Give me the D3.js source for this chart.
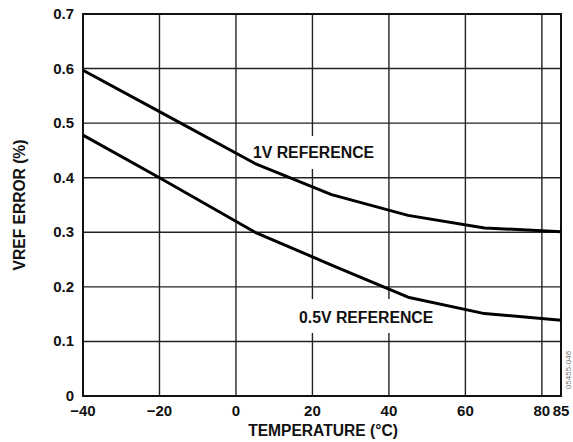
<!DOCTYPE html>
<html>
<head>
<meta charset="utf-8">
<script src="https://cdn.jsdelivr.net/npm/d3@7"></script>
<style>
  body { margin: 0; background: #fff; }
  text { font-family: "Liberation Sans", Arial, sans-serif; font-weight: bold; fill: #111; }
</style>
</head>
<body>
<script>
const temps = [-40, -20, 5, 25, 45, 65, 85];
const ref1V = [0.597, 0.521, 0.426, 0.369, 0.331, 0.308, 0.301];
const ref05V = [0.478, 0.400, 0.300, 0.240, 0.181, 0.151, 0.139];
const xTicks = [-40, -20, 0, 20, 40, 60, 80, 85];
const yTicks = [0, 0.1, 0.2, 0.3, 0.4, 0.5, 0.6, 0.7];

const w = 573;
const h = 442;
const plotL = 83, plotR = 561, plotT = 14, plotB = 396;

const svg = d3.select("body")
  .append("svg")
  .attr("width", w)
  .attr("height", h);

const xScale = d3.scaleLinear().domain([-40, 85]).range([plotL, plotR]);
const yScale = d3.scaleLinear().domain([0, 0.7]).range([plotB, plotT]);

// grid
svg.append("g")
  .selectAll("line")
  .data(xTicks)
  .enter()
  .append("line")
  .attr("x1", d => xScale(d))
  .attr("x2", d => xScale(d))
  .attr("y1", plotT)
  .attr("y2", plotB)
  .attr("stroke", "#222")
  .attr("stroke-width", 1.4);

svg.append("g")
  .selectAll("line")
  .data(yTicks)
  .enter()
  .append("line")
  .attr("x1", plotL)
  .attr("x2", plotR)
  .attr("y1", d => yScale(d))
  .attr("y2", d => yScale(d))
  .attr("stroke", "#222")
  .attr("stroke-width", 1.4);

// white boxes behind curve labels
svg.append("rect")
  .attr("x", xScale(5)).attr("y", 136)
  .attr("width", 124).attr("height", 33)
  .attr("fill", "#fff");
svg.append("rect")
  .attr("x", xScale(16)).attr("y", 299)
  .attr("width", 138).attr("height", 34)
  .attr("fill", "#fff");

// frame
svg.append("rect")
  .attr("x", plotL).attr("y", plotT)
  .attr("width", plotR - plotL).attr("height", plotB - plotT)
  .attr("fill", "none")
  .attr("stroke", "#111")
  .attr("stroke-width", 2);

const line = d3.line()
  .x((d, i) => xScale(temps[i]))
  .y(d => yScale(d))
  .curve(d3.curveLinear);

[ref1V, ref05V].forEach(series => {
  svg.append("path")
    .attr("d", line(series))
    .attr("fill", "none")
    .attr("stroke", "#000")
    .attr("stroke-width", 3)
    .attr("stroke-linejoin", "round");
});

// curve labels
svg.append("text")
  .attr("x", 253).attr("y", 158)
  .style("font-size", "15.8px")
  .text("1V REFERENCE");
svg.append("text")
  .attr("x", 299).attr("y", 323)
  .style("font-size", "15.8px")
  .text("0.5V REFERENCE");

// tick labels
svg.append("g")
  .selectAll("text")
  .data(yTicks)
  .enter()
  .append("text")
  .attr("x", 74)
  .attr("y", d => yScale(d) + 5)
  .attr("text-anchor", "end")
  .style("font-size", "15px")
  .text(d => d === 0 ? "0" : d3.format(".1f")(d));

svg.append("g")
  .selectAll("text")
  .data(xTicks)
  .enter()
  .append("text")
  .attr("x", d => xScale(d))
  .attr("y", 416)
  .attr("text-anchor", "middle")
  .style("font-size", "15px")
  .text(d => d < 0 ? "\u2212" + Math.abs(d) : d);

// axis titles
svg.append("text")
  .attr("text-anchor", "middle")
  .attr("transform", `translate(323,436)`)
  .style("font-size", "15.6px")
  .text("TEMPERATURE (°C)");

svg.append("text")
  .attr("text-anchor", "middle")
  .attr("transform", `translate(25,${(plotT + plotB) / 2})rotate(-90)`)
  .style("font-size", "15.6px")
  .text("VREF ERROR (%)");

svg.append("text")
  .attr("text-anchor", "middle")
  .attr("transform", `translate(571,370)rotate(-90)`)
  .style("font-size", "8px")
  .style("font-weight", "normal")
  .style("fill", "#777")
  .text("05455-046");
</script>
</body>
</html>
